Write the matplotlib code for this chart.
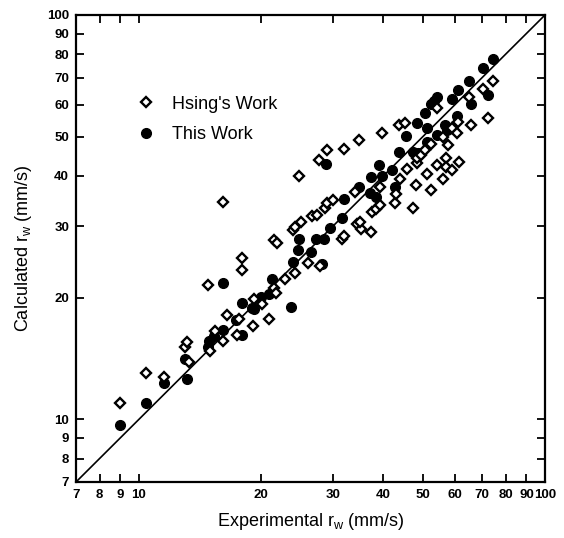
import numpy as np
import matplotlib
matplotlib.use("Agg")
import matplotlib.pyplot as plt
from matplotlib.ticker import FixedLocator, FixedFormatter, NullLocator

plt.rcParams['font.family'] = ['Liberation Sans', 'DejaVu Sans']
plt.rcParams['mathtext.fontset'] = 'custom'
plt.rcParams['mathtext.rm'] = 'Liberation Sans'

# Hsing's Work (open diamonds): experimental vs calculated r_w (mm/s)
hsing_exp = [9.0, 10.4, 11.5, 13.3, 13.0, 13.1, 14.8, 15.0, 15.4, 16.1,
             16.1, 16.5, 17.4, 17.6, 17.9, 17.9, 19.1, 19.2, 20.1, 20.9,
             21.5, 21.7, 22.9, 24.2, 21.5, 21.9, 23.9, 24.2, 25.0, 24.8,
             26.1, 26.7, 27.4, 27.8, 28.0, 28.7, 29.1, 29.0, 30.1, 31.6,
             32.0, 32.0, 34.0, 34.4, 35.2, 34.8, 35.0, 37.3, 37.4, 38.4,
             39.3, 39.3, 39.6, 42.7, 42.9, 43.6, 45.2, 44.0, 45.8, 47.2,
             48.0, 48.5, 48.5, 49.4, 50.7, 51.2, 52.3, 52.3, 54.1, 54.3,
             56.0, 56.2, 56.9, 56.9, 57.6, 59.1, 59.1, 60.6, 61.2, 61.4,
             65.0, 65.8, 70.4, 72.3, 74.5]
hsing_calc = [11.0, 13.0, 12.7, 13.9, 15.1, 15.5, 21.5, 14.8, 16.5, 15.6,
              34.4, 18.1, 16.2, 17.7, 25.1, 23.4, 17.0, 19.8, 19.3, 17.7,
              21.1, 20.5, 22.2, 23.0, 27.7, 27.3, 29.4, 29.9, 30.8, 40.0,
              24.3, 31.8, 32.0, 43.8, 23.9, 33.4, 34.2, 46.3, 34.8, 28.0,
              28.4, 46.6, 36.6, 30.5, 29.6, 49.0, 30.7, 29.0, 32.5, 33.1,
              33.9, 37.6, 51.0, 34.2, 36.0, 53.4, 54.0, 39.2, 41.7, 33.4,
              38.0, 43.1, 44.2, 45.0, 46.3, 40.4, 36.9, 48.1, 42.6, 58.9,
              39.4, 50.0, 44.2, 42.2, 47.6, 41.3, 52.4, 51.0, 54.4, 43.2,
              62.8, 53.4, 65.7, 55.5, 68.6]

# This Work (filled circles)
this_exp = [9.0, 10.4, 11.5, 13.1, 13.0, 14.8, 14.9, 15.3, 16.1, 16.1,
            17.3, 17.9, 17.9, 19.0, 19.2, 20.0, 20.9, 21.3, 23.7, 23.9,
            24.6, 24.8, 26.6, 27.3, 28.3, 28.6, 28.9, 29.6, 31.6, 32.0,
            34.8, 37.1, 37.3, 38.4, 39.1, 39.6, 42.0, 42.7, 43.8, 45.5,
            47.2, 48.6, 48.5, 50.7, 51.2, 51.3, 53.3, 52.5, 54.1, 54.1,
            56.6, 57.3, 59.0, 60.6, 61.2, 65.0, 65.6, 70.4, 72.3, 74.5]
this_calc = [9.7, 11.0, 12.3, 12.6, 14.1, 15.1, 15.6, 16.1, 16.6, 21.7,
             17.6, 16.2, 19.4, 18.9, 18.7, 20.1, 20.4, 22.2, 19.0, 24.5,
             26.2, 27.9, 26.0, 27.9, 24.2, 28.0, 42.8, 29.8, 31.5, 35.0,
             37.6, 36.2, 39.8, 35.5, 42.5, 40.0, 41.3, 37.6, 45.9, 50.3,
             45.9, 45.5, 54.0, 57.1, 48.6, 52.4, 61.4, 60.3, 62.8, 50.5,
             53.4, 52.0, 62.0, 56.2, 65.2, 68.6, 60.1, 74.0, 63.5, 78.0]

tick_vals = [7, 8, 9, 10, 20, 30, 40, 50, 60, 70, 80, 90, 100]
tick_labels = ["7", "8", "9", "10", "20", "30", "40", "50", "60", "70", "80", "90", "100"]
diag = [7, 100]

fig = plt.figure(figsize=(5.64, 5.38), dpi=100)
ax = fig.add_axes([76 / 564, 56 / 538, 469 / 564, 467 / 538])

ax.plot(diag, diag, color='black', lw=1.2, zorder=1)
ax.plot(hsing_exp, hsing_calc, linestyle='none', marker='D', ms=5.6,
        mfc='white', mec='black', mew=1.7, label="Hsing's Work", zorder=3)
ax.plot(this_exp, this_calc, linestyle='none', marker='o', ms=7.0,
        mfc='black', mec='black', label="This Work", zorder=2)

ax.set_xscale('log')
ax.set_yscale('log')
ax.set_xlim(7, 100)
ax.set_ylim(7, 100)

for axis in (ax.xaxis, ax.yaxis):
    axis.set_major_locator(FixedLocator(tick_vals))
    axis.set_major_formatter(FixedFormatter(tick_labels))
    axis.set_minor_locator(NullLocator())

ax.tick_params(which='major', direction='in', length=6, width=1.3,
               top=True, right=True, labelsize=9.5, pad=5)
for lab in ax.get_xticklabels() + ax.get_yticklabels():
    lab.set_fontweight('bold')
for sp in ax.spines.values():
    sp.set_linewidth(1.6)

ax.set_xlabel(r"Experimental r$_\mathregular{w}$ (mm/s)", fontsize=13, labelpad=7)
ax.set_ylabel(r"Calculated r$_\mathregular{w}$ (mm/s)", fontsize=13, labelpad=9)

ax.legend(loc='upper left', bbox_to_anchor=(0.085, 0.862), frameon=False,
          fontsize=13, handletextpad=0.7, labelspacing=0.75, handlelength=1.5)

fig.savefig("out.png", dpi=100)
